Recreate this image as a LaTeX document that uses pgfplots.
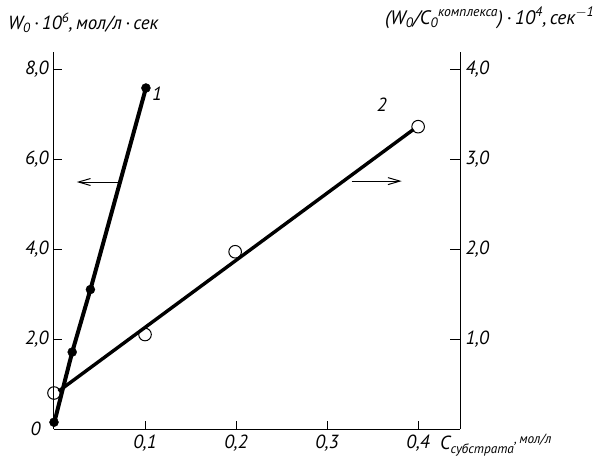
\documentclass[border=0pt]{standalone}
\usepackage{fontspec}
\setmainfont{PT Sans}
\usepackage{pgfplots}
\pgfplotsset{compat=1.18}
\usetikzlibrary{arrows.meta}
\begin{document}
\begin{tikzpicture}[font=\fontsize{19}{22}\selectfont\itshape]
\begin{axis}[
  scale only axis, width=406pt, height=377pt,
  xmin=0, xmax=0.446, ymin=0, ymax=8.38,
  axis x line*=bottom, axis y line*=left,
  axis line style={line width=1pt, -},
  tick align=inside, tick style={black, line width=0.9pt},
  xtick={0.1,0.2,0.3,0.4}, xticklabels={{0,1},{0,2},{0,3},{0,4}},
  major tick length=8pt,
  ytick={0,2,4,6,8}, yticklabels={{\llap{0\hspace{8pt}}},{2,0},{4,0},{6,0},{8,0}},
  xticklabel style={yshift=-2pt},
  yticklabel style={xshift=-2pt},
  clip=false,
]
\addplot[black, line width=4pt] coordinates {(0,0.12) (0.02,1.71) (0.04,3.1) (0.101,7.58)};
\addplot[only marks, mark=*, mark size=4.5pt, black] coordinates {(0,0.15) (0.02,1.71) (0.04,3.1) (0.101,7.58)};
\draw[line width=1pt, -{Straight Barb[length=12pt, width=7pt]}] (axis cs:0.07,5.49) -- (axis cs:0.025,5.49);
\node[anchor=west] at (axis cs:0.104,7.45) {1};
\node[anchor=base west, inner sep=0pt] at (axis cs:0.424,-0.46) {C\textsubscript{субстрата}\textsuperscript{,\,мол/л}};
\node[anchor=base west, inner sep=0pt] at (rel axis cs:0,1) [xshift=-46pt, yshift=23pt] {W\textsubscript{0}\,·\,10\textsuperscript{6},\,мол/л\,·\,сек};
\end{axis}
\begin{axis}[
  scale only axis, width=406pt, height=377pt,
  xmin=0, xmax=0.446, ymin=0, ymax=4.19,
  axis x line=none, axis y line*=right,
  axis line style={line width=1pt, -},
  tick align=inside, tick style={black, line width=0.9pt},
  major tick length=10pt,
  ytick={1,2,3,4}, yticklabels={{1,0},{2,0},{3,0},{4,0}},
  yticklabel style={xshift=2pt},
  clip=false,
]
\addplot[black, line width=3.4pt] coordinates {(0.005,0.42) (0.395,3.33)};
\addplot[only marks, mark=o, mark size=6.3pt, black, line width=1pt, mark options={fill=white}] coordinates {(0,0.4) (0.1,1.05) (0.199,1.97) (0.4,3.36)};
\draw[line width=1pt, -{Straight Barb[length=12pt, width=7pt]}] (axis cs:0.327,2.755) -- (axis cs:0.382,2.755);
\node at (axis cs:0.36,3.6) {2};
\node[anchor=base west, inner sep=0pt, font=\fontsize{19.5}{23}\selectfont\itshape] at (rel axis cs:1,1) [xshift=-75pt, yshift=28pt] {(W\textsubscript{0}/C\textsubscript{0}\textsuperscript{комплекса})\,·\,10\textsuperscript{4},\,сек\textsuperscript{$-$1}};
\end{axis}
\pgfresetboundingbox
\path (-54pt,-37pt) rectangle (551pt,429pt);
\end{tikzpicture}
\end{document}
